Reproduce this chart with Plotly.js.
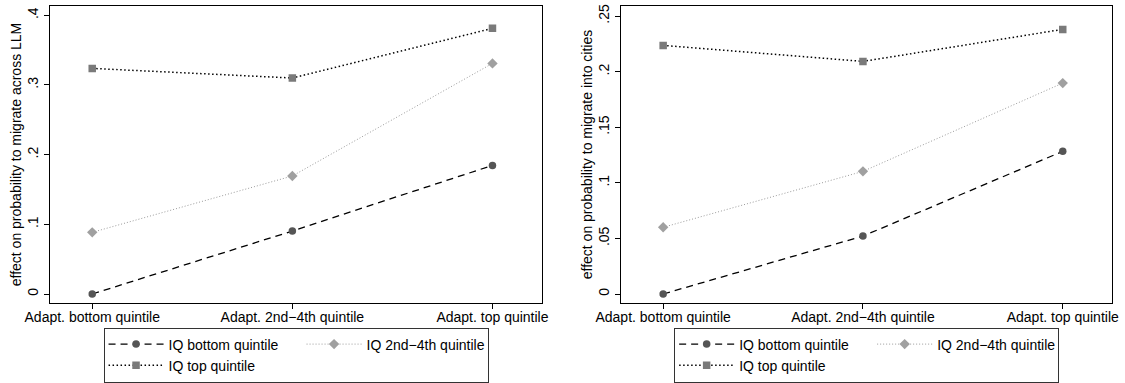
<!DOCTYPE html>
<html>
<head>
<meta charset="utf-8">
<script src="https://cdn.plot.ly/plotly-3.0.1.min.js"></script>
<style>
  html, body { margin: 0; padding: 0; background: #fff; }
  #chart { width: 1125px; height: 383px; }
</style>
</head>
<body>
<div id="chart"></div>
<script>
// ---- data ----
const categories = ['Adapt. bottom quintile', 'Adapt. 2nd\u22124th quintile', 'Adapt. top quintile'];
const seriesNames = ['IQ bottom quintile', 'IQ 2nd\u22124th quintile', 'IQ top quintile'];

// left panel: effect on probability to migrate across LLM
const llmBottom = [0.0, 0.0904, 0.1846];
const llmMid    = [0.0885, 0.1694, 0.3310];
const llmTop    = [0.3238, 0.3100, 0.3813];

// right panel: effect on probability to migrate into cities
const cityBottom = [0.0, 0.0521, 0.1283];
const cityMid    = [0.0600, 0.1103, 0.1897];
const cityTop    = [0.2236, 0.2092, 0.2380];

const leftTickVals  = [0, 0.1, 0.2, 0.3, 0.4];
const leftTickText  = ['0', '.1', '.2', '.3', '.4'];
const rightTickVals = [0, 0.05, 0.1, 0.15, 0.2, 0.25];
const rightTickText = ['0', '.05', '.1', '.15', '.2', '.25'];

const leftTitle  = 'effect on probability to migrate across LLM';
const rightTitle = 'effect on probability to migrate into cities';

// ---- styles ----
const FONT = '"Liberation Sans", Arial, Helvetica, sans-serif';
const styles = [
  { line: { color: '#000000', width: 1.3, dash: '7px,5px' }, marker: { symbol: 'circle', size: 7.5, color: '#555555' }, group: 'g1', lw: 128 },
  { line: { color: '#9a9a9a', width: 1, dash: '1px,2px' }, marker: { symbol: 'diamond', size: 8, color: '#a0a0a0' }, group: 'g2', lw: 116 },
  { line: { color: '#000000', width: 1.5, dash: '1.5px,2.5px' }, marker: { symbol: 'square', size: 7.5, color: '#7a7a7a' }, group: 'g1', lw: 128 }
];

function makeTraces(series, xa, ya, legendId) {
  return series.map((vals, i) => ({
    type: 'scatter',
    mode: 'lines+markers',
    x: categories,
    y: vals,
    xaxis: xa,
    yaxis: ya,
    name: seriesNames[i],
    legend: legendId,
    legendgroup: styles[i].group + legendId,
    legendwidth: styles[i].lw,
    line: styles[i].line,
    marker: Object.assign({}, styles[i].marker, { line: { width: 0 } }),
    hoverinfo: 'x+y+name'
  }));
}

const traces = [].concat(
  makeTraces([llmBottom, llmMid, llmTop], 'x', 'y', 'legend'),
  makeTraces([cityBottom, cityMid, cityTop], 'x2', 'y2', 'legend2')
);

const W = 1125, H = 383;
const yDom = [1 - 303.3 / H, 1 - 5.7 / H];

function xAxis(domain, anchor) {
  return {
    domain: domain,
    anchor: anchor,
    type: 'category',
    categoryorder: 'array',
    categoryarray: categories,
    range: [-0.211, 2.248],
    showline: true, mirror: true, linecolor: '#000', linewidth: 1,
    ticks: 'outside', ticklen: 5, tickwidth: 1, tickcolor: '#000',
    ticklabelstandoff: -4,
    showgrid: false, zeroline: false,
    tickfont: { family: FONT, size: 14, color: '#000' },
    automargin: false
  };
}
function yAxis(domain, anchor, range, tv, tt, title, standoff) {
  return {
    domain: domain,
    anchor: anchor,
    range: range,
    tickmode: 'array', tickvals: tv, ticktext: tt,
    tickangle: -90,
    showline: true, mirror: true, linecolor: '#000', linewidth: 1,
    ticks: 'outside', ticklen: 5, tickwidth: 1, tickcolor: '#000',
    showgrid: false, zeroline: false,
    tickfont: { family: FONT, size: 14, color: '#000' },
    title: { text: title, standoff: standoff, font: { family: FONT, size: 14, color: '#000' } },
    automargin: true
  };
}

function legendCfg(xc) {
  return {
    orientation: 'h',
    traceorder: 'grouped',
    x: xc, xanchor: 'center',
    y: 1 - 382.5 / H, yanchor: 'bottom',
    itemwidth: 55,
    bgcolor: '#ffffff',
    bordercolor: '#333333', borderwidth: 1,
    font: { family: FONT, size: 14, color: '#000' },
    itemclick: false, itemdoubleclick: false
  };
}

const layout = {
  width: W, height: H,
  margin: { l: 0, r: 0, t: 0, b: 0, autoexpand: false },
  paper_bgcolor: '#ffffff',
  plot_bgcolor: '#ffffff',
  font: { family: FONT, size: 14, color: '#000' },
  showlegend: true,
  xaxis: xAxis([50 / W, 542.1 / W], 'y'),
  yaxis: yAxis(yDom, 'x', [-0.01335, 0.4138], leftTickVals, leftTickText, leftTitle, 0),
  xaxis2: xAxis([621 / W, 1112.3 / W], 'y2'),
  yaxis2: yAxis(yDom, 'x2', [-0.00836, 0.2593], rightTickVals, rightTickText, rightTitle, 0),
  legend: legendCfg((50 + 542.1) / 2 / W),
  legend2: legendCfg((621 + 1112.3) / 2 / W)
};

Plotly.newPlot('chart', traces, layout, { displayModeBar: false, responsive: false });
</script>
</body>
</html>
